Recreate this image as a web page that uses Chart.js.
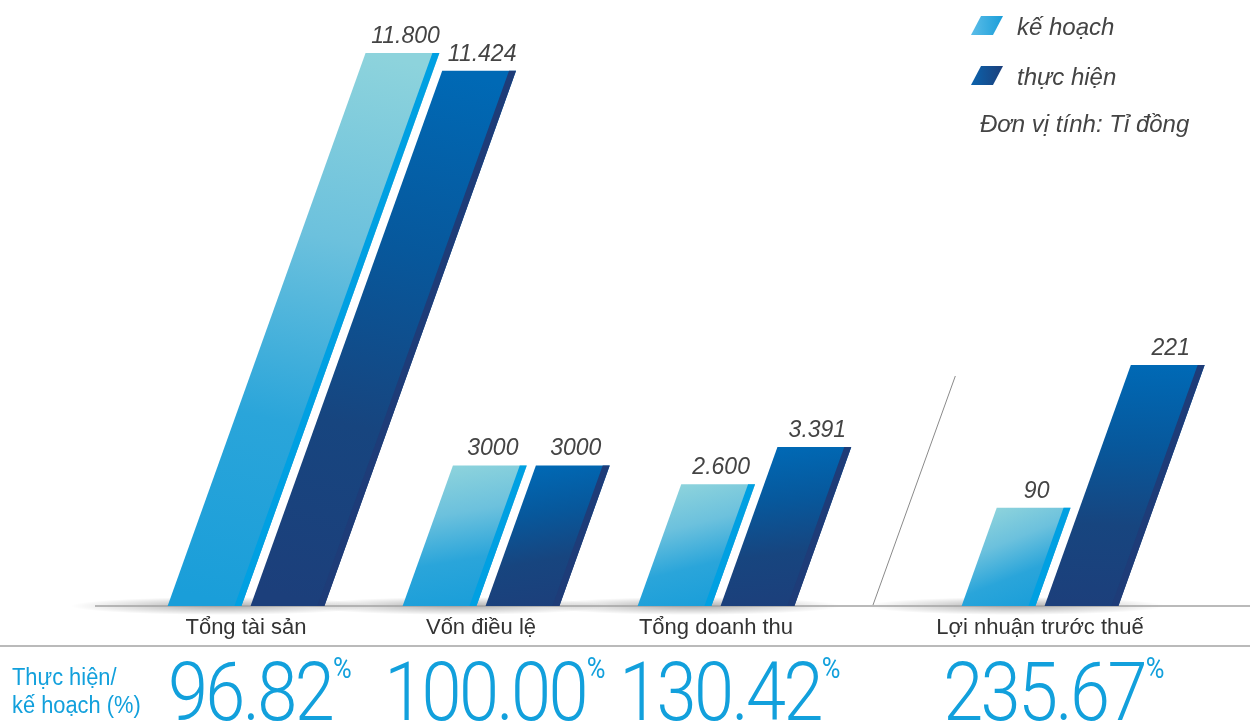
<!DOCTYPE html>
<html>
<head>
<meta charset="utf-8">
<script src="https://cdn.jsdelivr.net/npm/chart.js@4"></script>
<style>
    html, body { margin: 0; padding: 0; background: #fff; }
    #wrap { position: relative; width: 1250px; height: 727px; overflow: hidden; }
    #leftChart { position: absolute; left: 0; top: 0; width: 870px; height: 727px; }
    #rightChart { position: absolute; left: 870px; top: 0; width: 380px; height: 727px; }
</style>
</head>
<body>
<div id="wrap">
    <canvas id="leftChart" width="870" height="727"></canvas>
    <canvas id="rightChart" width="380" height="727"></canvas>
</div>
<script>
// Data (Tỉ đồng)
const categories = ['Tổng tài sản', 'Vốn điều lệ', 'Tổng doanh thu'];
const planValues = [11800, 3000, 2600];
const actualValues = [11424, 3000, 3391];
const planText = ['11.800', '3000', '2.600'];
const actualText = ['11.424', '3000', '3.391'];

const profitCategory = ['Lợi nhuận trước thuế'];
const profitPlan = [90];
const profitActual = [221];
const profitPlanText = ['90'];
const profitActualText = ['221'];

// Thực hiện / kế hoạch (%)
const ratios = [96.82, 100.00, 130.42, 235.67];

const seriesNames = ['kế hoạch', 'thực hiện'];
const unitNote = 'Đơn vị tính: Tỉ đồng';
const ratioTitle = ['Thực hiện/', 'kế hoạch (%)'];

const SLANT = 0.358;   // horizontal shift per pixel of bar height
const STRIPE = 7;
const BLUE = '#12a0dc';
const planShade = ['#8dd3dc', '#6cc1dd', '#2aa5da', '#1a9ed9'];
const actualShade = ['#0069b5', '#07589c', '#17457f', '#1c3f7b'];

function slantPath(ctx, xl, xr, top, base) {
    const d = (base - top) * SLANT;
    ctx.beginPath();
    ctx.moveTo(xl, base);
    ctx.lineTo(xr, base);
    ctx.lineTo(xr + d, top);
    ctx.lineTo(xl + d, top);
    ctx.closePath();
}

function hline(ctx, x1, x2, y) {
    ctx.save();
    ctx.strokeStyle = '#a3a3a3';
    ctx.lineWidth = 1.5;
    ctx.beginPath();
    ctx.moveTo(x1, y);
    ctx.lineTo(x2, y);
    ctx.stroke();
    ctx.restore();
}

// slanted bars, shadows, value labels, ratio row
const slantBars = {
    id: 'slantBars',
    beforeDatasetsDraw(chart, args, opts) {
        const ctx = chart.ctx;
        const area = chart.chartArea;
        const xs = chart.scales.x;
        chart.data.labels.forEach((l, i) => {
            const cx = xs.getPixelForValue(i);
            ctx.save();
            ctx.translate(cx - 25, area.bottom);
            ctx.scale(1, 0.06);
            const g = ctx.createRadialGradient(0, 0, 0, 0, 0, 150);
            g.addColorStop(0, 'rgba(0,0,0,0.32)');
            g.addColorStop(0.55, 'rgba(0,0,0,0.14)');
            g.addColorStop(1, 'rgba(0,0,0,0)');
            ctx.fillStyle = g;
            ctx.beginPath();
            ctx.arc(0, 0, 150, 0, Math.PI * 2);
            ctx.fill();
            ctx.restore();
        });
        hline(ctx, opts.lineFrom, chart.width, area.bottom);
        hline(ctx, 0, chart.width, 646);
        if (opts.divider) {
            ctx.save();
            ctx.strokeStyle = '#8a8a8a';
            ctx.lineWidth = 1;
            ctx.beginPath();
            ctx.moveTo(3, area.bottom - 1);
            ctx.lineTo(3 + (area.bottom - 376) * SLANT, 376);
            ctx.stroke();
            ctx.restore();
        }
    },
    beforeDatasetDraw(chart, args) {
        const ctx = chart.ctx;
        const ds = chart.data.datasets[args.index];
        args.meta.data.forEach(bar => {
            const p = bar.getProps(['x', 'y', 'base', 'width'], true);
            const xl = p.x - p.width / 2, xr = p.x + p.width / 2;
            const d = (p.base - p.y) * SLANT;
            const g = ctx.createLinearGradient(xl + d, p.y, xr, p.base);
            ds.shade.forEach((c, k) => g.addColorStop(k / (ds.shade.length - 1), c));
            ctx.save();
            ctx.fillStyle = g;
            slantPath(ctx, xl, xr, p.y, p.base);
            ctx.fill();
            ctx.fillStyle = ds.stripe;
            slantPath(ctx, xr - STRIPE, xr, p.y, p.base);
            ctx.fill();
            ctx.restore();
        });
        return false;
    },
    afterDatasetsDraw(chart) {
        const ctx = chart.ctx;
        ctx.save();
        ctx.font = 'italic 23px "Liberation Sans", Arial, sans-serif';
        ctx.fillStyle = '#444';
        ctx.textAlign = 'center';
        ctx.textBaseline = 'alphabetic';
        chart.data.datasets.forEach((ds, di) => {
            chart.getDatasetMeta(di).data.forEach((bar, i) => {
                const p = bar.getProps(['x', 'y', 'base'], true);
                const xc = p.x + (p.base - p.y) * SLANT;
                ctx.fillText(ds.valueText[i], xc + 3, p.y - 10);
            });
        });
        ctx.restore();
    },
    afterDraw(chart, args, opts) {
        const ctx = chart.ctx;
        const xs = chart.scales.x;
        opts.ratios.forEach((r, i) => {
            const cx = xs.getPixelForValue(i) + 4;
            const txt = r.toFixed(2);
            ctx.save();
            ctx.fillStyle = BLUE;
            ctx.font = '300 82px Roboto, sans-serif';
            ctx.letterSpacing = '-3px';
            ctx.textBaseline = 'alphabetic';
            ctx.textAlign = 'center';
            const w = ctx.measureText(txt).width * 0.88;
            ctx.translate(cx, 720);
            ctx.scale(0.88, 1);
            ctx.fillText(txt, 0, 0);
            ctx.restore();
            ctx.save();
            ctx.fillStyle = BLUE;
            ctx.font = '400 30px Roboto, sans-serif';
            ctx.textBaseline = 'top';
            ctx.textAlign = 'left';
            ctx.translate(cx + w / 2 + 1, 655);
            ctx.scale(0.85, 1);
            ctx.fillText('%', 0, 0);
            ctx.restore();
        });
        if (opts.ratioTitle) {
            ctx.save();
            ctx.fillStyle = BLUE;
            ctx.font = '23px "Liberation Sans", Arial, sans-serif';
            ctx.textBaseline = 'alphabetic';
            ctx.translate(12, 0);
            ctx.scale(0.95, 1);
            ctx.fillText(opts.ratioTitle[0], 0, 685);
            ctx.fillText(opts.ratioTitle[1], 0, 713);
            ctx.restore();
        }
        if (opts.legend) {
            const rows = [35, 85];
            chart.data.datasets.forEach((ds, di) => {
                const yb = rows[di];
                const g = ctx.createLinearGradient(101, 0, 133, 0);
                g.addColorStop(0, di === 0 ? '#5cbde8' : '#0b63ad');
                g.addColorStop(1, di === 0 ? '#1a9ed9' : '#1c3f7b');
                ctx.save();
                ctx.fillStyle = g;
                ctx.beginPath();
                ctx.moveTo(101, yb);
                ctx.lineTo(123, yb);
                ctx.lineTo(133, yb - 19);
                ctx.lineTo(111, yb - 19);
                ctx.closePath();
                ctx.fill();
                ctx.font = 'italic 24px "Liberation Sans", Arial, sans-serif';
                ctx.fillStyle = '#444';
                ctx.textBaseline = 'alphabetic';
                ctx.fillText(ds.label, 147, yb);
                ctx.restore();
            });
            ctx.save();
            ctx.font = 'italic 24px "Liberation Sans", Arial, sans-serif';
            ctx.fillStyle = '#444';
            ctx.fillText(opts.legend, 110, 132);
            ctx.restore();
        }
    }
};

function makeChart(id, labels, plan, actual, pText, aText, yMax, padding, pluginOpts) {
    return new Chart(document.getElementById(id), {
        type: 'bar',
        data: {
            labels: labels,
            datasets: [
                { label: seriesNames[0], data: plan, valueText: pText, shade: planShade, stripe: '#00a0e2', backgroundColor: '#1a9ed9' },
                { label: seriesNames[1], data: actual, valueText: aText, shade: actualShade, stripe: '#1e3c78', backgroundColor: '#1c3f7b' }
            ]
        },
        options: {
            responsive: false,
            animation: false,
            categoryPercentage: 0.706,
            barPercentage: 0.89,
            layout: { padding: padding },
            plugins: {
                legend: { display: false },
                tooltip: { enabled: false },
                slantBars: pluginOpts
            },
            scales: {
                x: {
                    grid: { display: false, drawTicks: false },
                    border: { display: false },
                    ticks: {
                        color: '#333',
                        padding: 9,
                        font: { family: '"Liberation Sans", Arial, sans-serif', size: 22 }
                    },
                    afterFit(scale) { scale.height = 121; }
                },
                y: { display: false, min: 0, max: yMax }
            }
        },
        plugins: [slantBars]
    });
}

makeChart('leftChart', categories, planValues, actualValues, planText, actualText, 12100,
    { left: 128.5, right: 36.5, top: 39, bottom: 0 },
    { ratios: ratios.slice(0, 3), ratioTitle: ratioTitle, lineFrom: 95 });

makeChart('rightChart', profitCategory, profitPlan, profitActual, profitPlanText, profitActualText, 520,
    { left: 52.5, right: 92.5, top: 39, bottom: 0 },
    { ratios: ratios.slice(3), lineFrom: 0, divider: true, legend: unitNote });
</script>
</body>
</html>
